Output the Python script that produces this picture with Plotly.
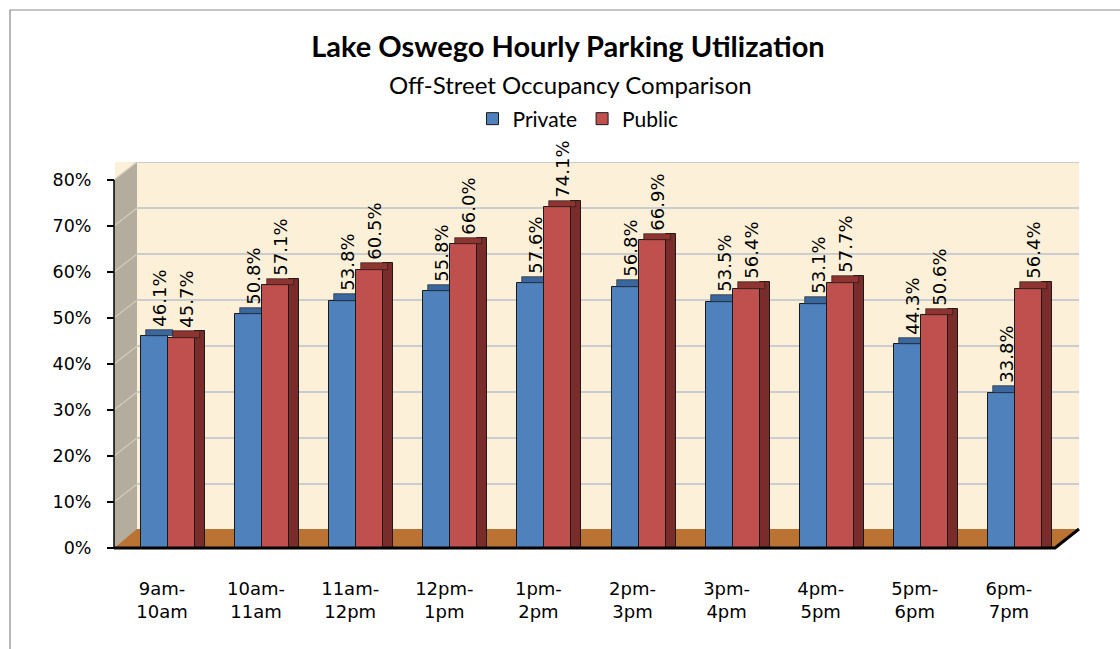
import plotly.graph_objects as go

# ---- data ----
categories = ["9am-<br>10am", "10am-<br>11am", "11am-<br>12pm", "12pm-<br>1pm", "1pm-<br>2pm",
              "2pm-<br>3pm", "3pm-<br>4pm", "4pm-<br>5pm", "5pm-<br>6pm", "6pm-<br>7pm"]
private = [46.1, 50.8, 53.8, 55.8, 57.6, 56.8, 53.5, 53.1, 44.3, 33.8]
public = [45.7, 57.1, 60.5, 66.0, 74.1, 66.9, 56.4, 57.7, 50.6, 56.4]
y_ticks = [0, 10, 20, 30, 40, 50, 60, 70, 80]
y_tick_labels = ["0%", "10%", "20%", "30%", "40%", "50%", "60%", "70%", "80%"]

# ---- layout geometry (pixels) ----
W, H = 1120, 649
L, R, T, B = 115, 1079, 162, 548
CAT_PX = 94.1
C0 = 162
PX_PER_UNIT = (548 - 180) / 80.0
DEPTH_PX = 18  # 3D depth offset of the back wall

def px(x):
    return (x - L) / (R - L)

def py(y):
    return (B - y) / (B - T)

x_lo = -(C0 - L) / CAT_PX
x_hi = (R - C0) / CAT_PX
y_hi = (B - T) / PX_PER_UNIT
depth = DEPTH_PX / PX_PER_UNIT

BLUE, BLUE_TOP = "#4F81BD", "#3A679E"
RED, RED_TOP, RED_SIDE = "#C0504D", "#8E3431", "#7A2C2A"
EDGE = "#1a1a1a"
CAP = 1.4  # visual thickness of bar top face (in % units)

blue_off, bar_w = -21 / CAT_PX, 27 / CAT_PX
red_off = 6 / CAT_PX
side_off, side_w = 33 / CAT_PX, 10 / CAT_PX
shift = 5 / CAT_PX

LABEL_FONT = dict(family="DejaVu Sans", size=18, color="black")
XAXIS_FONT = dict(family="DejaVu Sans", size=18, color="black")
YAXIS_FONT = dict(family="DejaVu Sans", size=17.5, color="black")

fig = go.Figure()

# Private front face
fig.add_trace(go.Bar(x=categories, y=private, name="Private", offset=blue_off, width=bar_w,
                     marker=dict(color=BLUE, line=dict(color=EDGE, width=1)),
                     hoverinfo="skip"))
# Private top face with label
fig.add_trace(go.Bar(x=categories, y=[CAP] * len(private), base=private, offset=blue_off + shift,
                     width=bar_w, marker=dict(color=BLUE_TOP, line=dict(color=EDGE, width=0.6)),
                     text=[f"{v:.1f}%" for v in private], textposition="outside", textangle=-90,
                     constraintext="none", cliponaxis=False, textfont=LABEL_FONT,
                     showlegend=False, hoverinfo="skip"))
# Public side face
fig.add_trace(go.Bar(x=categories, y=[v + CAP for v in public], offset=side_off, width=side_w,
                     marker=dict(color=RED_SIDE, line=dict(color=EDGE, width=1)),
                     showlegend=False, hoverinfo="skip"))
# Public front face
fig.add_trace(go.Bar(x=categories, y=public, name="Public", offset=red_off, width=bar_w,
                     marker=dict(color=RED, line=dict(color=EDGE, width=1)),
                     hoverinfo="skip"))
# Public top face with label
fig.add_trace(go.Bar(x=categories, y=[CAP] * len(public), base=public, offset=red_off + shift,
                     width=bar_w, marker=dict(color=RED_TOP, line=dict(color=EDGE, width=0.6)),
                     text=[f"{v:.1f}%" for v in public], textposition="outside", textangle=-90,
                     constraintext="none", cliponaxis=False, textfont=LABEL_FONT,
                     showlegend=False, hoverinfo="skip"))

shapes = [
    # outer frame
    dict(type="path", xref="paper", yref="paper",
         path=f"M {px(10)} {py(660)} L {px(10)} {py(10)} L {px(1130)} {py(10)}",
         line=dict(color="#8a8a8a", width=1.2), layer="below"),
    # left side wall
    dict(type="path", xref="paper", yref="paper",
         path=f"M {px(114)} {py(548)} L {px(137)} {py(530)} L {px(137)} {py(162)} L {px(114)} {py(180)} Z",
         fillcolor="#B4AD9D", line=dict(width=0), layer="below"),
]
# 3D gridlines: on the back wall (raised by depth) and diagonals on the side wall
for t in y_ticks[1:]:
    shapes.append(dict(type="line", xref="paper", yref="y", x0=px(137), x1=px(1079),
                       y0=t + depth, y1=t + depth, line=dict(color="#B9C0CB", width=1.3),
                       layer="below"))
    shapes.append(dict(type="line", xref="paper", yref="y", x0=px(114), x1=px(137),
                       y0=t, y1=t + depth, line=dict(color="#CFCABE", width=1.3),
                       layer="below"))
shapes += [
    # floor
    dict(type="path", xref="paper", yref="paper",
         path=f"M {px(114)} {py(548)} L {px(1055)} {py(548)} L {px(1079)} {py(529)} L {px(137)} {py(529)} Z",
         fillcolor="#BA7332", line=dict(width=0), layer="below"),
    # white corner right of floor
    dict(type="path", xref="paper", yref="paper",
         path=f"M {px(1055)} {py(549)} L {px(1080)} {py(549)} L {px(1080)} {py(529)} Z",
         fillcolor="white", line=dict(width=0), layer="below"),
    # floor front edge
    dict(type="path", xref="paper", yref="paper",
         path=f"M {px(114)} {py(548)} L {px(1055)} {py(548)} L {px(1079)} {py(529)}",
         line=dict(color="black", width=3), layer="above"),
    # y axis line
    dict(type="line", xref="paper", yref="paper", x0=px(114), x1=px(114), y0=py(180), y1=py(548),
         line=dict(color="black", width=1.5), layer="above"),
]

fig.update_layout(
    width=W, height=H,
    margin=dict(l=L, r=W - R, t=T, b=H - B),
    paper_bgcolor="white",
    plot_bgcolor="#FCF1D8",
    barmode="overlay",
    bargap=0,
    title=dict(text="<b>Lake Oswego Hourly Parking Utilization</b>",
               font=dict(family="Lato", size=29, color="black"),
               x=568 / W, xanchor="center", y=1 - 47 / H, yanchor="middle"),
    annotations=[dict(text="Off-Street Occupancy Comparison", xref="paper", yref="paper",
                      x=px(570), y=py(85), xanchor="center", yanchor="middle", showarrow=False,
                      font=dict(family="Lato", size=24, color="black"))],
    legend=dict(orientation="h", xref="paper", yref="paper", x=px(578), xanchor="center",
                y=py(119), yanchor="middle", font=dict(family="Lato", size=21, color="black"),
                bgcolor="rgba(0,0,0,0)", itemwidth=30, traceorder="normal"),
    shapes=shapes,
    xaxis=dict(type="category", range=[x_lo, x_hi], showgrid=False, zeroline=False,
               showline=False, ticks="", ticklabelstandoff=28,
               tickfont=XAXIS_FONT),
    yaxis=dict(range=[0, y_hi], tickmode="array", tickvals=y_ticks, ticktext=y_tick_labels,
               showgrid=False, zeroline=False, showline=False,
               ticks="outside", ticklen=7, tickcolor="black", tickwidth=1.5,
               ticklabelstandoff=12, tickfont=YAXIS_FONT),
)

fig.write_html("out.html", config={"displayModeBar": False},
               post_script="document.body.style.margin='0';")
